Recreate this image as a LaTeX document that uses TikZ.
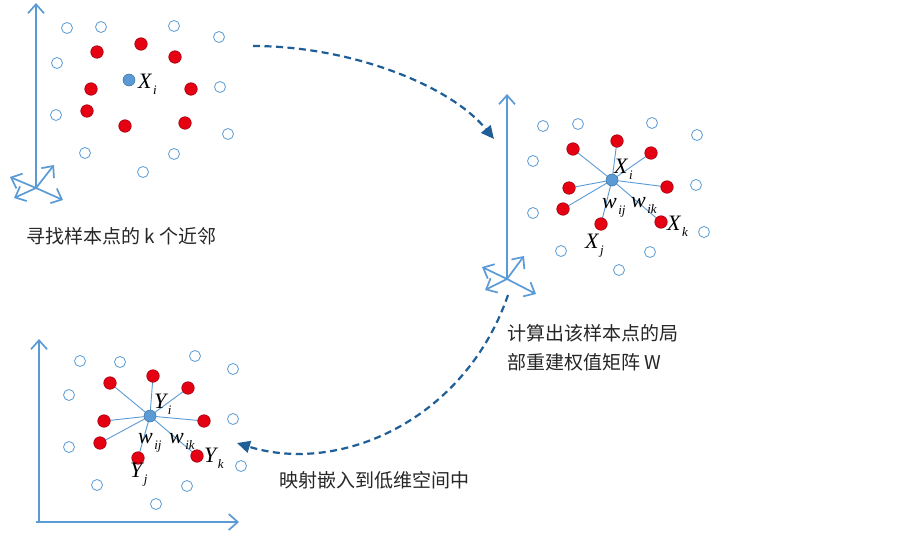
\documentclass[tikz,border=0pt]{standalone}
\usepackage{fontspec}
\setmainfont{Liberation Serif}
\newfontfamily\cjk{Noto Sans CJK SC}
\newfontfamily\tms{Liberation Serif}
\usetikzlibrary{arrows.meta}
\definecolor{axisblue}{HTML}{5B9BD5}
\definecolor{darkarrow}{HTML}{1F5E97}
\definecolor{ptred}{HTML}{E50012}
\definecolor{ptredline}{HTML}{A00010}
\definecolor{ptblueline}{HTML}{41719C}
\newcommand{\ptlab}[2]{{\tms\itshape\fontsize{22}{22}\selectfont #1\kern1.5pt\raisebox{-0.3em}{\fontsize{13}{13}\selectfont #2}}}
\tikzset{
  opencirc/.style={circle,draw=axisblue,line width=0.8pt,fill=white,minimum size=11pt,inner sep=0pt},
  redcirc/.style={circle,draw=ptredline,line width=0.6pt,fill=ptred,minimum size=12.5pt,inner sep=0pt},
  bluecirc/.style={circle,draw=ptblueline,line width=0.5pt,fill=axisblue,minimum size=12pt,inner sep=0pt},
  axisline/.style={draw=axisblue,line width=1.7pt,-{Straight Barb[length=9pt,width=16pt,line width=1.7pt]}},
  spoke/.style={draw=axisblue,line width=0.9pt},
  flowarrow/.style={draw=darkarrow,line width=2.2pt,dash pattern=on 7pt off 4.5pt,-{Triangle[length=13pt,width=12pt]}},
  lab/.style={inner sep=0pt,anchor=base west},
  cjktext/.style={inner sep=0pt,font=\cjk\fontsize{19}{29}\selectfont,text=black!85}
}
\begin{document}
\begin{tikzpicture}[x=1pt,y=-1pt]
\useasboundingbox[fill=white] (0,0) rectangle (903,533);

% ---------- Panel 1 ----------
\coordinate (o1) at (36,188);
\coordinate (o1up) at (36,3);
\coordinate (o1ur) at (54,165);
\coordinate (o1l) at (10,177);
\coordinate (o1ll) at (14,198);
\coordinate (o1lr) at (63,200);
\foreach \t in {o1up,o1ur,o1l,o1ll,o1lr} \draw[axisline] (o1) -- (\t);

\foreach \x/\y [count=\i] in {67/28,101/27,174/26,219/37,57/63,220/87,56/115,228/134,85/153,174/154,143/172}
  \node[opencirc] (a\i) at (\x,\y) {};
\foreach \x/\y [count=\i] in {97/52,141/44,175/57,91/89,191/89,87/111,125/126,185/123}
  \node[redcirc] (ar\i) at (\x,\y) {};
\node[bluecirc] (ac) at (129,80) {};
\node[lab] (acl) at (138,88) {\ptlab{X}{i}};

% ---------- Panel 2 ----------
\coordinate (o2) at (507,279);
\coordinate (o2up) at (507,94);
\coordinate (o2ur) at (524,256);
\coordinate (o2l) at (482,267);
\coordinate (o2ll) at (485,290);
\coordinate (o2lr) at (536,294);
\foreach \t in {o2up,o2ur,o2l,o2ll,o2lr} \draw[axisline] (o2) -- (\t);

\foreach \x/\y [count=\i] in {543/126,578/124,652/123,697/135,533/161,696/185,533/213,704/232,561/251,650/252,619/270}
  \node[opencirc] (b\i) at (\x,\y) {};
\coordinate (bc) at (612,180);
\foreach \x/\y [count=\i] in {573/149,617/141,651/153,569/188,667/187,563/209,601/224,661/222}
  \coordinate (br\i) at (\x,\y);
\foreach \i in {1,...,8} \draw[spoke] (bc) -- (br\i);
\foreach \i in {1,...,8} \node[redcirc] (brn\i) at (br\i) {};
\node[bluecirc] (bcn) at (bc) {};
\node[lab] (bxi) at (614,173) {\ptlab{X}{i}};
\node[lab] (bwij) at (602,208) {\ptlab{w}{ij}};
\node[lab] (bwik) at (631,207) {\ptlab{w}{ik}};
\node[lab] (bxk) at (667,230) {\ptlab{X}{k}};
\node[lab] (bxj) at (585,248) {\ptlab{X}{j}};

% ---------- Panel 3 ----------
\coordinate (o3) at (39,522);
\coordinate (o3up) at (39,339);
\coordinate (o3l) at (36,522);
\coordinate (o3r) at (239,522);
\draw[axisline] (o3) -- (o3up);
\draw[axisline] (o3l) -- (o3r);

\foreach \x/\y [count=\i] in {80/361,120/362,195/356,233/369,69/395,233/419,69/447,241/466,97/485,187/486,156/504}
  \node[opencirc] (c\i) at (\x,\y) {};
\coordinate (cc) at (150,416);
\foreach \x/\y [count=\i] in {110/383,153/376,188/388,104/421,204/421,100/443,138/458,197/456}
  \coordinate (cr\i) at (\x,\y);
\foreach \i in {1,...,8} \draw[spoke] (cc) -- (cr\i);
\foreach \i in {1,...,8} \node[redcirc] (crn\i) at (cr\i) {};
\node[bluecirc] (ccn) at (cc) {};
\node[lab] (cyi) at (154,408) {\ptlab{Y}{i}};
\node[lab] (cwij) at (138,443) {\ptlab{w}{ij}};
\node[lab] (cwik) at (169,443) {\ptlab{w}{ik}};
\node[lab] (cyk) at (204,462) {\ptlab{Y}{k}};
\node[lab] (cyj) at (130,477) {\ptlab{Y}{j}};

% ---------- Flow arrows ----------
\coordinate (f1s) at (253,46);
\coordinate (f1e) at (494,139);
\draw[flowarrow] (f1s) .. controls (350,46) and (450,85) .. (f1e);
\coordinate (f2s) at (508,295);
\coordinate (f2e) at (237,443);
\draw[flowarrow] (f2s) .. controls (465,420) and (340,475) .. (f2e);

% ---------- Texts ----------
\node[cjktext,anchor=west] (t1) at (26,236) {寻找样本点的 k 个近邻};
\node[cjktext,anchor=north west,align=left] (t2) at (507,324) {计算出该样本点的局\\部重建权值矩阵 W};
\node[cjktext,anchor=west] (t3) at (279,480) {映射嵌入到低维空间中};
\end{tikzpicture}
\end{document}
